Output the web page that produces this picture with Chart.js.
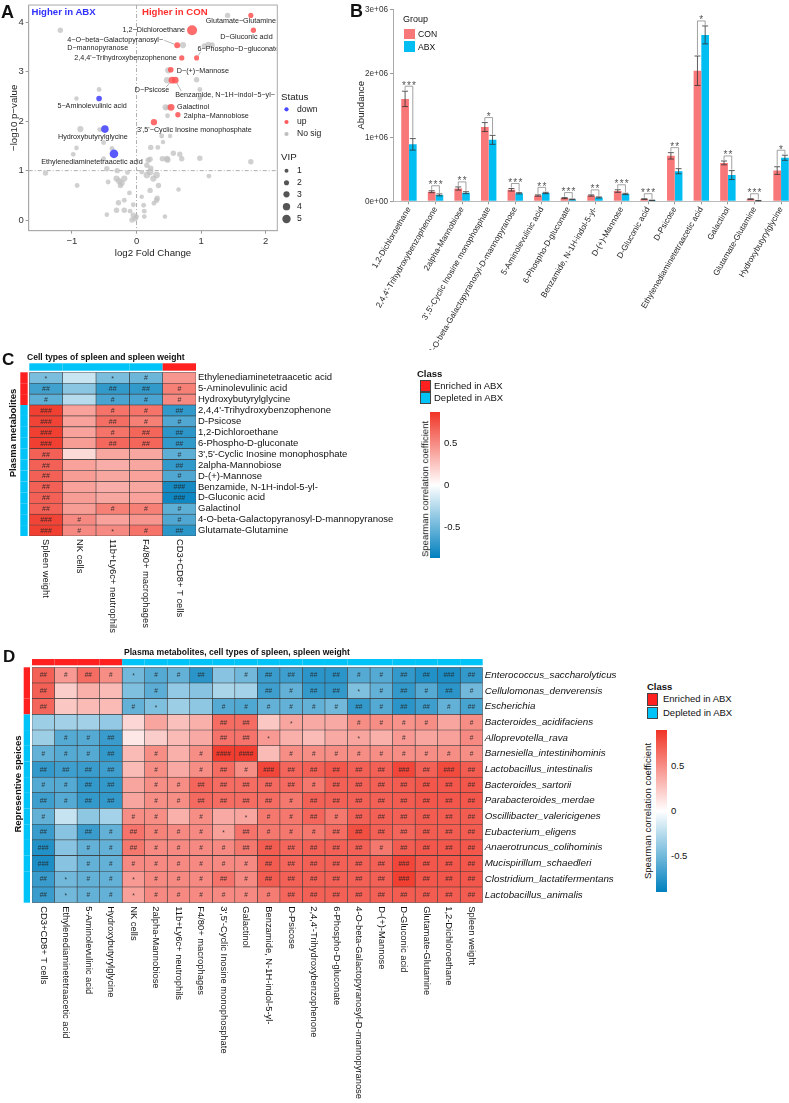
<!DOCTYPE html>
<html>
<head>
<meta charset="utf-8">
<script src="https://cdn.jsdelivr.net/npm/chart.js@4.4.1/dist/chart.umd.min.js"></script>
<style>
html, body { margin: 0; padding: 0; background: #fff; overflow: hidden; }
body { position: relative; width: 789px; height: 1103px; font-family: "Liberation Sans", Arial, sans-serif; color: #111; }
canvas { position: absolute; }
.t { position: absolute; white-space: nowrap; line-height: 1; }
.l { transform: translate(0, -50%); }
.rot { transform: translate(-50%, -50%) rotate(-90deg); }
.letter { font-weight: bold; font-size: 18px; color: #111; }
.box { position: absolute; box-sizing: border-box; border: 0.8px solid #444; }
.bar { position: absolute; }
</style>
</head>
<body>

<canvas id="volcano" width="340" height="262" style="left:0;top:0"></canvas>
<canvas id="bars" width="450" height="350" style="left:350px;top:0"></canvas>
<canvas id="heatC" width="420" height="295" style="left:0;top:345px"></canvas>
<canvas id="heatD" width="640" height="458" style="left:0;top:645px"></canvas>

<!-- panel A text -->
<div class="t l letter" style="left:1px;top:11.7px">A</div>
<div class="t l" style="left:31.5px;top:11.7px;font-weight:bold;font-size:9.6px;color:#3030ff">Higher in ABX</div>
<div class="t l" style="left:142px;top:11.7px;font-weight:bold;font-size:9.6px;color:#ff3030">Higher in CON</div>

<!-- panel B text -->
<div class="t l letter" style="left:350px;top:10.7px">B</div>
<div class="t l" style="left:403px;top:19px;font-size:9px">Group</div>
<div class="bar" style="left:404px;top:29.3px;width:11px;height:10px;background:#F8787A"></div>
<div class="t l" style="left:418px;top:34.3px;font-size:8.6px">CON</div>
<div class="bar" style="left:404px;top:41.3px;width:11px;height:10.4px;background:#00BDF2"></div>
<div class="t l" style="left:418px;top:46.5px;font-size:8.6px">ABX</div>

<!-- panel C text -->
<div class="t l letter" style="left:2px;top:359px;font-size:17px">C</div>
<div class="t l" style="left:27px;top:356.7px;font-weight:bold;font-size:8.6px">Cell types of spleen and spleen weight</div>
<div class="t rot" style="left:13.3px;top:432.5px;font-weight:bold;font-size:9.5px">Plasma metabolites</div>
<div class="t l" style="left:417px;top:374px;font-weight:bold;font-size:9.5px">Class</div>
<div class="box" style="left:420px;top:379.5px;width:10.5px;height:12.3px;background:#FF2020"></div>
<div class="t l" style="left:434px;top:385.5px;font-size:9.5px">Enriched in ABX</div>
<div class="box" style="left:420px;top:391.8px;width:10.5px;height:12.3px;background:#00C3F7"></div>
<div class="t l" style="left:434px;top:398px;font-size:9.5px">Depleted in ABX</div>
<div id="barC" class="bar" style="left:430px;top:412px;width:10px;height:146px"></div>
<div class="t l" style="left:444px;top:443px;font-size:9.5px">0.5</div>
<div class="t l" style="left:444px;top:485px;font-size:9.5px">0</div>
<div class="t l" style="left:444px;top:527px;font-size:9.5px">-0.5</div>
<div class="t rot" style="left:424.5px;top:489px;font-size:9.5px">Spearman correlation coefficient</div>

<!-- panel D text -->
<div class="t l letter" style="left:3px;top:656px;font-size:17px">D</div>
<div class="t l" style="left:124px;top:651.7px;font-weight:bold;font-size:8.6px">Plasma metabolites, cell types of spleen, spleen weight</div>
<div class="t rot" style="left:18px;top:784px;font-weight:bold;font-size:9.5px">Representive speices</div>
<div class="t l" style="left:647px;top:687px;font-weight:bold;font-size:9.5px">Class</div>
<div class="box" style="left:647px;top:693px;width:11px;height:12.5px;background:#FF2020"></div>
<div class="t l" style="left:663px;top:699px;font-size:9.5px">Enriched in ABX</div>
<div class="box" style="left:647px;top:706.5px;width:11px;height:12.5px;background:#00C3F7"></div>
<div class="t l" style="left:663px;top:713px;font-size:9.5px">Depleted in ABX</div>
<div id="barD" class="bar" style="left:656px;top:730px;width:11px;height:162px"></div>
<div class="t l" style="left:671px;top:766px;font-size:9.5px">0.5</div>
<div class="t l" style="left:671px;top:811px;font-size:9.5px">0</div>
<div class="t l" style="left:671px;top:856px;font-size:9.5px">-0.5</div>
<div class="t rot" style="left:648px;top:811px;font-size:9.5px">Spearman correlation coefficient</div>

<script>
// ---------- A: volcano data ----------
const upNames = ['Glutamate-Glutamine', '1,2-Dichloroethane', 'D-Gluconic acid',
  '4-O-beta-Galactopyranosyl-D-mannopyranose', '6-Phospho-D-gluconate',
  "2,4,4'-Trihydroxybenzophenone", 'D-(+)-Mannose', 'D-Psicose',
  'Benzamide, N-1H-indol-5-yl-', 'Galactinol', '2alpha-Mannobiose',
  "3',5'-Cyclic Inosine monophosphate"];
const upFC = [1.77, 0.86, 1.81, 0.63, 0.93, 0.70, 0.53, 0.55, 0.60, 0.535, 0.64, 0.27];
const upLogP = [4.14, 3.84, 3.84, 3.535, 3.28, 3.28, 3.04, 2.83, 2.83, 2.28, 2.13, 1.98];
const upVIP = [2, 6.5, 2.2, 2.8, 2, 2.2, 2.5, 3.6, 3.4, 3.6, 2.2, 3.1];

const downNames = ['5-Aminolevulinic acid', 'Hydroxybutyrylglycine', 'Ethylenediaminetetraacetic acid'];
const downFC = [-0.58, -0.49, -0.35];
const downLogP = [2.46, 1.84, 1.34];
const downVIP = [2.5, 4.3, 5.2];

const nsFC = [1.41, -1.18, 0.72, 1.05, 1.11, 1.17, 0.49, 0.47, 0.93, 0.98, 0.98, -0.58, -0.93, 0.45, 0.49,
  0.48, -0.87, -0.57, 0.39, 0.52, -0.93, -0.51, -0.38, -0.98, -0.51, 0.22, 0.33, 0.41, 0.57, 0.67,
  0.70, 0.40, 0.47, 0.98, 1.77, 0.21, -1.41, -0.92, -0.46, -0.44, -0.31, -0.27, -0.23, -0.19, -0.25,
  -0.46, -0.11, -0.28, -0.19, -0.31, -0.19, -0.10, -0.05, -0.02, -0.07, 0.00, 0.12, 0.12, 0.08, 0.16,
  0.21, 0.31, 0.26, 0.34, 0.16, 0.18, 0.21, 0.32, 0.31, 0.27, 0.11, 0.44, 0.65, 1.12, 0.48,
  0.08, 0.22, -0.14, -0.30, -0.05];
const nsLogP = [4.14, 3.84, 3.54, 3.52, 3.55, 3.54, 3.03, 2.83, 2.84, 2.64, 2.47, 2.64, 2.46, 2.28, 2.28,
  2.11, 1.84, 1.83, 1.70, 1.70, 1.46, 1.57, 1.45, 1.33, 1.24, 1.47, 1.47, 1.58, 1.35, 1.33,
  1.24, 1.24, 1.24, 1.25, 1.18, 1.23, 0.95, 0.70, 0.11, 0.77, 0.84, 0.79, 0.75, 0.84, 0.70,
  1.04, 0.55, 0.35, 0.40, 0.20, 0.20, 0.18, 0.10, 0.03, 0.00, 0.07, 0.07, 0.18, 0.47, 0.91,
  0.97, 0.91, 0.84, 0.70, 1.11, 1.21, 0.60, 0.44, 0.40, 0.34, 0.30, 0.07, 0.62, 0.89, 1.22,
  0.97, 1.05, 0.96, 1.00, 0.31];
const nsVIP = [2.3, 2.3, 3, 2.3, 2.3, 2.3, 3, 3, 2.3, 1.8, 1.8, 1.8, 1.5, 3, 2.3,
  1.8, 3, 1.8, 1.8, 1.5, 1.5, 1.8, 1.8, 1.8, 1.8, 2.3, 1.8, 1.5, 2.3, 2.3,
  2.3, 2.3, 3, 2.3, 2.3, 2.3, 2.3, 1.8, 1.5, 1.8, 3, 3, 3, 3, 2.3,
  2.3, 1.8, 2.3, 1.8, 2.3, 2.3, 1.8, 2.3, 2.3, 2.3, 1.8, 1.8, 1.8, 1.5, 3.4,
  3.4, 3.4, 3, 2.3, 2.3, 2.3, 2.3, 2.3, 2.3, 1.8, 1.8, 1.5, 1.5, 1.8, 3,
  1.8, 2.3, 1.8, 2.3, 1.8];

// ---------- B: abundance data ----------
const metabolites = ['1,2-Dichloroethane', "2,4,4'-Trihydroxybenzophenone", '2alpha-Mannobiose',
  "3',5'-Cyclic Inosine monophosphate", '4-O-beta-Galactopyranosyl-D-mannopyranose',
  '5-Aminolevulinic acid', '6-Phospho-D-gluconate', 'Benzamide, N-1H-indol-5-yl-', 'D-(+)-Mannose',
  'D-Gluconic acid', 'D-Psicose', 'Ethylenediaminetetraacetic acid', 'Galactinol',
  'Glutamate-Glutamine', 'Hydroxybutyrylglycine'];
const conMean = [1.60e6, 0.15e6, 0.20e6, 1.16e6, 0.18e6, 0.09e6, 0.05e6, 0.09e6, 0.16e6, 0.035e6, 0.71e6, 2.04e6, 0.60e6, 0.035e6, 0.48e6];
const conErr = [0.12e6, 0.015e6, 0.025e6, 0.07e6, 0.02e6, 0.01e6, 0.008e6, 0.01e6, 0.02e6, 0.005e6, 0.05e6, 0.23e6, 0.03e6, 0.005e6, 0.06e6];
const abxMean = [0.89e6, 0.10e6, 0.135e6, 0.96e6, 0.125e6, 0.13e6, 0.03e6, 0.06e6, 0.115e6, 0.015e6, 0.47e6, 2.60e6, 0.41e6, 0.01e6, 0.68e6];
const abxErr = [0.09e6, 0.015e6, 0.015e6, 0.07e6, 0.01e6, 0.01e6, 0.005e6, 0.008e6, 0.01e6, 0.003e6, 0.04e6, 0.14e6, 0.07e6, 0.003e6, 0.04e6];
const signif = ['***', '***', '**', '*', '***', '**', '***', '**', '***', '***', '**', '*', '**', '***', '*'];
const abundanceTicks = [0, 1e6, 2e6, 3e6];

// ---------- C: metabolites x spleen cells ----------
const cRows = ['Ethylenediaminetetraacetic acid', '5-Aminolevulinic acid', 'Hydroxybutyrylglycine',
  "2,4,4'-Trihydroxybenzophenone", 'D-Psicose', '1,2-Dichloroethane', '6-Phospho-D-gluconate',
  "3',5'-Cyclic Inosine monophosphate", '2alpha-Mannobiose', 'D-(+)-Mannose',
  'Benzamide, N-1H-indol-5-yl-', 'D-Gluconic acid', 'Galactinol',
  '4-O-beta-Galactopyranosyl-D-mannopyranose', 'Glutamate-Glutamine'];
const cCols = ['Spleen weight', 'NK cells', '11b+Ly6c+ neutrophils', 'F4/80+ macrophages', 'CD3+CD8+ T cells'];
const cRowClass = ['E', 'E', 'E', 'D', 'D', 'D', 'D', 'D', 'D', 'D', 'D', 'D', 'D', 'D', 'D'];
const cColClass = ['D', 'D', 'D', 'D', 'E'];
const cRho = [
  [-0.45, -0.18, -0.45, -0.50, 0.45],
  [-0.65, -0.40, -0.70, -0.70, 0.55],
  [-0.55, -0.25, -0.62, -0.62, 0.50],
  [0.82, 0.40, 0.60, 0.60, -0.70],
  [0.80, 0.40, 0.62, 0.55, -0.60],
  [0.82, 0.40, 0.60, 0.66, -0.72],
  [0.82, 0.42, 0.65, 0.66, -0.70],
  [0.68, 0.16, 0.38, 0.38, -0.55],
  [0.68, 0.40, 0.35, 0.38, -0.70],
  [0.68, 0.42, 0.38, 0.40, -0.60],
  [0.68, 0.40, 0.35, 0.38, -0.80],
  [0.68, 0.42, 0.38, 0.40, -0.82],
  [0.68, 0.42, 0.55, 0.55, -0.55],
  [0.80, 0.50, 0.40, 0.45, -0.60],
  [0.82, 0.50, 0.50, 0.60, -0.72]
];
const cMarks = [
  ['*', '', '*', '#', ''],
  ['##', '', '##', '##', '#'],
  ['#', '', '#', '#', '#'],
  ['###', '', '#', '#', '##'],
  ['###', '', '##', '#', '#'],
  ['###', '', '#', '##', '##'],
  ['###', '', '##', '##', '##'],
  ['##', '', '', '', '#'],
  ['##', '', '', '', '##'],
  ['##', '', '', '', '#'],
  ['##', '', '', '', '###'],
  ['##', '', '', '', '###'],
  ['##', '', '#', '#', '#'],
  ['###', '#', '', '', '#'],
  ['###', '#', '*', '#', '##']
];

// ---------- D: species x metabolites/cells ----------
const dRows = ['Enterococcus_saccharolyticus', 'Cellulomonas_denverensis', 'Escherichia',
  'Bacteroides_acidifaciens', 'Alloprevotella_rava', 'Barnesiella_intestinihominis',
  'Lactobacillus_intestinalis', 'Bacteroides_sartorii', 'Parabacteroides_merdae',
  'Oscillibacter_valericigenes', 'Eubacterium_eligens', 'Anaerotruncus_colihominis',
  'Mucispirillum_schaedleri', 'Clostridium_lactatifermentans', 'Lactobacillus_animalis'];
const dCols = ['CD3+CD8+ T cells', 'Ethylenediaminetetraacetic acid', '5-Aminolevulinic acid',
  'Hydroxybutyrylglycine', 'NK cells', '2alpha-Mannobiose', '11b+Ly6c+ neutrophils',
  'F4/80+ macrophages', "3',5'-Cyclic Inosine monophosphate", 'Galactinol',
  'Benzamide, N-1H-indol-5-yl-', 'D-Psicose', "2,4,4'-Trihydroxybenzophenone",
  '6-Phospho-D-gluconate', '4-O-beta-Galactopyranosyl-D-mannopyranose', 'D-(+)-Mannose',
  'D-Gluconic acid', 'Glutamate-Glutamine', '1,2-Dichloroethane', 'Spleen weight'];
const dRowClass = ['E', 'E', 'E', 'D', 'D', 'D', 'D', 'D', 'D', 'D', 'D', 'D', 'D', 'D', 'D'];
const dColClass = ['E', 'E', 'E', 'E', 'D', 'D', 'D', 'D', 'D', 'D', 'D', 'D', 'D', 'D', 'D', 'D', 'D', 'D', 'D', 'D'];
const dRho = [
  [0.70, 0.45, 0.65, 0.50, -0.50, -0.60, -0.55, -0.75, -0.42, -0.50, -0.70, -0.68, -0.75, -0.75, -0.60, -0.60, -0.72, -0.78, -0.80, -0.72],
  [0.70, 0.22, 0.35, 0.30, -0.45, -0.58, -0.38, -0.42, -0.30, -0.32, -0.68, -0.55, -0.72, -0.72, -0.45, -0.55, -0.72, -0.60, -0.75, -0.50],
  [0.68, 0.25, 0.30, 0.30, -0.55, -0.45, -0.35, -0.40, -0.60, -0.62, -0.55, -0.55, -0.55, -0.50, -0.72, -0.60, -0.75, -0.68, -0.55, -0.65],
  [-0.35, -0.33, -0.33, -0.38, 0.18, 0.40, 0.28, 0.35, 0.65, 0.65, 0.25, 0.40, 0.38, 0.38, 0.50, 0.50, 0.48, 0.50, 0.40, 0.50],
  [-0.35, -0.60, -0.60, -0.70, 0.10, 0.22, 0.30, 0.38, 0.62, 0.62, 0.45, 0.35, 0.30, 0.38, 0.40, 0.35, 0.45, 0.40, 0.42, 0.52],
  [-0.55, -0.60, -0.60, -0.72, 0.30, 0.50, 0.35, 0.50, 0.86, 0.86, 0.30, 0.50, 0.50, 0.50, 0.50, 0.50, 0.50, 0.50, 0.50, 0.50],
  [-0.72, -0.68, -0.70, -0.68, 0.30, 0.50, 0.38, 0.50, 0.65, 0.50, 0.82, 0.68, 0.70, 0.75, 0.70, 0.70, 0.82, 0.70, 0.80, 0.72],
  [-0.60, -0.60, -0.72, -0.72, 0.40, 0.50, 0.50, 0.68, 0.65, 0.65, 0.66, 0.66, 0.60, 0.70, 0.70, 0.70, 0.72, 0.75, 0.75, 0.75],
  [-0.68, -0.60, -0.72, -0.72, 0.40, 0.50, 0.50, 0.66, 0.65, 0.65, 0.65, 0.60, 0.70, 0.70, 0.70, 0.70, 0.72, 0.75, 0.75, 0.75],
  [-0.55, -0.20, -0.40, -0.32, 0.50, 0.50, 0.35, 0.50, 0.38, 0.40, 0.60, 0.60, 0.68, 0.60, 0.70, 0.70, 0.70, 0.72, 0.72, 0.72],
  [-0.70, -0.42, -0.70, -0.55, 0.62, 0.55, 0.52, 0.52, 0.42, 0.62, 0.60, 0.60, 0.60, 0.65, 0.78, 0.70, 0.68, 0.72, 0.72, 0.72],
  [-0.78, -0.42, -0.55, -0.55, 0.60, 0.52, 0.52, 0.52, 0.52, 0.60, 0.72, 0.68, 0.70, 0.70, 0.70, 0.60, 0.72, 0.75, 0.75, 0.75],
  [-0.80, -0.42, -0.55, -0.55, 0.52, 0.52, 0.52, 0.52, 0.52, 0.52, 0.72, 0.68, 0.70, 0.70, 0.70, 0.70, 0.82, 0.75, 0.75, 0.75],
  [-0.70, -0.50, -0.55, -0.55, 0.45, 0.52, 0.52, 0.52, 0.62, 0.52, 0.72, 0.70, 0.70, 0.70, 0.70, 0.70, 0.85, 0.75, 0.75, 0.75],
  [-0.70, -0.50, -0.55, -0.55, 0.42, 0.52, 0.52, 0.52, 0.52, 0.52, 0.58, 0.68, 0.70, 0.70, 0.70, 0.70, 0.72, 0.72, 0.72, 0.72]
];
const dMarks = [
  ['##', '#', '##', '#', '*', '#', '#', '##', '', '#', '##', '##', '##', '##', '#', '#', '##', '##', '###', '##'],
  ['##', '', '', '', '', '#', '', '', '', '', '##', '#', '##', '##', '*', '#', '##', '#', '##', '#'],
  ['##', '', '', '', '#', '*', '', '', '#', '#', '#', '#', '#', '#', '##', '#', '##', '##', '#', '##'],
  ['', '', '', '', '', '', '', '', '##', '##', '', '*', '', '', '#', '#', '#', '#', '', '#'],
  ['', '#', '#', '##', '', '', '', '', '##', '##', '*', '', '', '', '*', '', '#', '', '', '#'],
  ['#', '#', '#', '##', '', '#', '', '#', '####', '####', '', '#', '#', '#', '#', '#', '#', '#', '#', '#'],
  ['##', '##', '##', '##', '', '#', '', '#', '##', '#', '###', '##', '##', '##', '##', '##', '###', '##', '###', '##'],
  ['#', '#', '##', '##', '', '#', '#', '##', '##', '##', '##', '##', '#', '##', '##', '##', '##', '##', '##', '##'],
  ['##', '#', '##', '##', '', '#', '#', '##', '##', '##', '##', '#', '##', '##', '##', '##', '##', '##', '##', '##'],
  ['#', '', '', '', '#', '#', '', '#', '', '*', '#', '#', '##', '#', '##', '##', '##', '##', '##', '##'],
  ['##', '', '##', '#', '##', '#', '#', '#', '*', '##', '#', '#', '#', '##', '##', '##', '##', '##', '##', '##'],
  ['###', '', '#', '#', '##', '#', '#', '#', '#', '##', '##', '##', '##', '##', '##', '#', '##', '##', '##', '##'],
  ['###', '', '#', '#', '#', '#', '#', '#', '#', '#', '##', '##', '##', '##', '##', '##', '###', '##', '##', '##'],
  ['##', '*', '#', '#', '*', '#', '#', '#', '##', '#', '##', '##', '##', '##', '##', '##', '###', '##', '##', '##'],
  ['##', '*', '#', '#', '*', '#', '#', '#', '#', '#', '#', '##', '##', '##', '##', '##', '##', '##', '##', '##']
];

// ---------- styles ----------
Chart.defaults.font.family = '"Liberation Sans", Arial, sans-serif';
Chart.defaults.color = '#222';
const FONT = '"Liberation Sans", Arial, sans-serif';
const classColor = { E: '#FF2020', D: '#00C3F7' };
const vipRadius = v => 1.45 + 0.55 * v;
const minus = s => String(s).replace(/-/g, '\u2212');

function heatColor(v, lim) {
  const t = Math.min(Math.abs(v) / lim, 1);
  const end = v >= 0 ? [240, 52, 38] : [0, 128, 190];
  return 'rgb(' + end.map(e => Math.round(255 + (e - 255) * t)).join(',') + ')';
}
function paintColorbar(id, lim) {
  const stops = [];
  for (let i = 0; i <= 20; i++) stops.push(heatColor(lim - i * lim / 10, lim) + ' ' + (i * 5) + '%');
  document.getElementById(id).style.background = 'linear-gradient(to bottom,' + stops.join(',') + ')';
}

// label placement for volcano (pixel offsets from the point)
const volcanoLabels = {
  'Glutamate-Glutamine': { dx: -10, dy: 6, align: 'center' },
  '1,2-Dichloroethane': { dx: -7, dy: 0, align: 'right' },
  'D-Gluconic acid': { dx: -7, dy: 7, align: 'center' },
  '4-O-beta-Galactopyranosyl-D-mannopyranose': { dx: -110, dy: -5, align: 'left',
    lines: ['4-O-beta-Galactopyranosyl-', 'D-mannopyranose'], lead: [-13, -5] },
  '6-Phospho-D-gluconate': { dx: 1, dy: -9, align: 'left', lead: [4, -6] },
  "2,4,4'-Trihydroxybenzophenone": { dx: -5, dy: 0, align: 'right' },
  'D-(+)-Mannose': { dx: 6, dy: 1, align: 'left' },
  'D-Psicose': { dx: -20, dy: 10, align: 'center', lead: [-6, 7] },
  'Benzamide, N-1H-indol-5-yl-': { dx: 0, dy: 15, align: 'left', lead: [6, 11] },
  'Galactinol': { dx: 6, dy: 0, align: 'left' },
  '2alpha-Mannobiose': { dx: 6, dy: 1, align: 'left' },
  "3',5'-Cyclic Inosine monophosphate": { dx: -17, dy: 8, align: 'left' },
  '5-Aminolevulinic acid': { dx: -7, dy: 8, align: 'center' },
  'Hydroxybutyrylglycine': { dx: -12, dy: 8, align: 'center' },
  'Ethylenediaminetetraacetic acid': { dx: -22, dy: 8, align: 'center' }
};

// ---------- A: volcano ----------
const volcanoDecor = {
  id: 'volcanoDecor',
  beforeDatasetsDraw(chart) {
    const { ctx, chartArea: a, scales: { x, y } } = chart;
    ctx.save();
    ctx.strokeStyle = '#999';
    ctx.lineWidth = 0.8;
    ctx.setLineDash([4, 2, 1, 2]);
    ctx.beginPath();
    ctx.moveTo(x.getPixelForValue(0), a.top);
    ctx.lineTo(x.getPixelForValue(0), a.bottom);
    ctx.moveTo(a.left, y.getPixelForValue(1));
    ctx.lineTo(a.right, y.getPixelForValue(1));
    ctx.stroke();
    ctx.restore();
  },
  afterDatasetsDraw(chart) {
    const { ctx, chartArea: a, scales: { x, y } } = chart;
    ctx.save();
    ctx.strokeStyle = '#aaa';
    ctx.lineWidth = 1;
    ctx.strokeRect(a.left, a.top, a.right - a.left, a.bottom - a.top);

    // point labels, clipped to the panel like ggplot does
    ctx.save();
    ctx.beginPath();
    ctx.rect(a.left, a.top, a.right - a.left - 1, a.bottom - a.top);
    ctx.clip();
    ctx.font = '7.2px ' + FONT;
    ctx.fillStyle = '#222';
    ctx.textBaseline = 'middle';
    [0, 1].forEach(d => {
      chart.data.datasets[d].data.forEach(p => {
        const st = volcanoLabels[p.name];
        if (!st) return;
        const px = x.getPixelForValue(p.x), py = y.getPixelForValue(p.y);
        if (st.lead) {
          const r = vipRadius(p.vip);
          const lx = px + st.lead[0], ly = py + st.lead[1];
          const len = Math.hypot(st.lead[0], st.lead[1]);
          ctx.strokeStyle = '#888';
          ctx.lineWidth = 0.6;
          ctx.beginPath();
          ctx.moveTo(lx, ly);
          ctx.lineTo(px + st.lead[0] * r / len, py + st.lead[1] * r / len);
          ctx.stroke();
        }
        ctx.textAlign = st.align;
        const lines = st.lines || [p.name];
        lines.forEach((t, k) => ctx.fillText(minus(t), px + st.dx, py + st.dy + k * 8));
      });
    });
    ctx.restore();

    // legends
    ctx.textAlign = 'left';
    ctx.textBaseline = 'middle';
    ctx.font = '9.7px ' + FONT;
    ctx.fillStyle = '#222';
    ctx.fillText('Status', 281, 97);
    ctx.fillText('VIP', 281, 157);
    const status = [['down', 'rgb(72,72,255)', 109.3], ['up', 'rgb(255,90,90)', 122], ['No sig', 'rgb(190,190,190)', 134]];
    ctx.font = '8.6px ' + FONT;
    status.forEach(([lab, col, yy]) => {
      ctx.fillStyle = col;
      ctx.beginPath(); ctx.arc(286.5, yy, 2.1, 0, Math.PI * 2); ctx.fill();
      ctx.fillStyle = '#222';
      ctx.fillText(lab, 297, yy);
    });
    [170.7, 182.7, 194.3, 206.7, 219].forEach((yy, k) => {
      ctx.fillStyle = '#555';
      ctx.beginPath(); ctx.arc(286.5, yy, vipRadius(k + 1), 0, Math.PI * 2); ctx.fill();
      ctx.fillStyle = '#222';
      ctx.fillText(String(k + 1), 297, yy);
    });
    ctx.restore();
  }
};

const toPoints = (fc, lp, vip, names) => fc.map((v, i) => ({ x: v, y: lp[i], vip: vip[i], name: names ? names[i] : '' }));

new Chart(document.getElementById('volcano'), {
  type: 'scatter',
  data: {
    datasets: [
      { label: 'down', data: toPoints(downFC, downLogP, downVIP, downNames), backgroundColor: 'rgba(72,72,255,0.9)' },
      { label: 'up', data: toPoints(upFC, upLogP, upVIP, upNames), backgroundColor: 'rgba(255,82,82,0.85)' },
      { label: 'No sig', data: toPoints(nsFC, nsLogP, nsVIP), backgroundColor: 'rgba(192,192,192,0.75)' }
    ]
  },
  options: {
    responsive: false, animation: false, devicePixelRatio: 1,
    layout: { padding: { left: 0, top: 4, right: 62.7, bottom: 0 } },
    plugins: { legend: { display: false }, tooltip: { enabled: false } },
    datasets: { scatter: { pointRadius: ctx => ctx.raw ? vipRadius(ctx.raw.vip) : 3, pointBorderWidth: 0 } },
    scales: {
      x: {
        type: 'linear', min: -1.67, max: 2.18,
        afterBuildTicks: s => { s.ticks = [-1, 0, 1, 2].map(v => ({ value: v })); },
        ticks: { callback: v => minus(v), font: { size: 9.5 }, color: '#333', padding: 2 },
        grid: { drawOnChartArea: false, tickLength: 3, color: '#999' },
        border: { color: '#aaa' },
        title: { display: true, text: 'log2 Fold Change', font: { size: 9.7 }, color: '#222', padding: { top: 0, bottom: 3 } },
        afterFit: s => { s.height = 31.3; s.paddingLeft = 0; s.paddingRight = 0; }
      },
      y: {
        type: 'linear', min: -0.215, max: 4.35,
        afterBuildTicks: s => { s.ticks = [0, 1, 2, 3, 4].map(v => ({ value: v })); },
        ticks: { font: { size: 9.5 }, color: '#333', padding: 2 },
        grid: { drawOnChartArea: false, tickLength: 3, color: '#999' },
        border: { color: '#aaa' },
        title: { display: true, text: minus('-log10 p-value'), font: { size: 9.7 }, color: '#222', padding: { top: 8.2, bottom: 0 } },
        afterFit: s => { s.width = 28.7; s.paddingTop = 0; s.paddingBottom = 0; }
      }
    }
  },
  plugins: [volcanoDecor]
});

// ---------- B: bars ----------
const sci = v => v === 0 ? '0e+00' : v.toExponential(0).replace(/e\+(\d)$/, 'e+0$1');
const errorBars = {
  id: 'errorBars',
  afterDatasetsDraw(chart) {
    const { ctx, scales: { y } } = chart;
    const means = [conMean, abxMean], errs = [conErr, abxErr];
    const metas = [chart.getDatasetMeta(0), chart.getDatasetMeta(1)];
    ctx.save();
    ctx.strokeStyle = '#333';
    ctx.lineWidth = 0.8;
    metas.forEach((meta, d) => meta.data.forEach((bar, i) => {
      const top = y.getPixelForValue(means[d][i] + errs[d][i]);
      const bot = y.getPixelForValue(Math.max(means[d][i] - errs[d][i], 0));
      ctx.beginPath();
      ctx.moveTo(bar.x, top); ctx.lineTo(bar.x, bot);
      ctx.moveTo(bar.x - 3, top); ctx.lineTo(bar.x + 3, top);
      ctx.moveTo(bar.x - 3, bot); ctx.lineTo(bar.x + 3, bot);
      ctx.stroke();
    }));
    // significance brackets
    ctx.font = '10px ' + FONT;
    ctx.textAlign = 'center';
    ctx.textBaseline = 'alphabetic';
    ctx.letterSpacing = '1.2px';
    signif.forEach((s, i) => {
      const xa = metas[0].data[i].x, xb = metas[1].data[i].x;
      const ya = y.getPixelForValue(conMean[i] + conErr[i]);
      const yb = y.getPixelForValue(abxMean[i] + abxErr[i]);
      const top = Math.min(ya, yb) - 5;
      ctx.strokeStyle = '#8a8a8a';
      ctx.beginPath();
      ctx.moveTo(xa, ya - 1); ctx.lineTo(xa, top); ctx.lineTo(xb, top); ctx.lineTo(xb, yb - 1);
      ctx.stroke();
      ctx.fillStyle = '#555';
      ctx.fillText(s, (xa + xb) / 2 + 0.6, top + 2.5);
    });
    ctx.restore();
  }
};

new Chart(document.getElementById('bars'), {
  type: 'bar',
  data: {
    datasets: [
      { label: 'CON', data: conMean.map((v, i) => ({ x: i + 1, y: v })), backgroundColor: '#F8787A' },
      { label: 'ABX', data: abxMean.map((v, i) => ({ x: i + 1, y: v })), backgroundColor: '#00BDF2' }
    ]
  },
  options: {
    responsive: false, animation: false, devicePixelRatio: 1,
    layout: { padding: { left: 0, top: 9.3, right: 3, bottom: 0 } },
    datasets: { bar: { categoryPercentage: 0.58, barPercentage: 1 } },
    plugins: { legend: { display: false }, tooltip: { enabled: false } },
    scales: {
      x: {
        type: 'linear', min: 0.4, max: 15.6, offset: false,
        afterBuildTicks: s => { s.ticks = metabolites.map((_, i) => ({ value: i + 1 })); },
        ticks: { callback: v => metabolites[v - 1], autoSkip: false, minRotation: 60, maxRotation: 60, font: { size: 8.2 }, color: '#222', padding: 1 },
        grid: { drawOnChartArea: false, offset: false, tickLength: 3, color: '#999' },
        border: { color: '#bbb' },
        afterFit: s => { s.height = 148.7; s.paddingLeft = 0; s.paddingRight = 0; }
      },
      y: {
        min: 0, max: 3e6,
        afterBuildTicks: s => { s.ticks = abundanceTicks.map(v => ({ value: v })); },
        ticks: { callback: sci, font: { size: 8.2 }, color: '#333', padding: 2 },
        grid: { drawOnChartArea: false, tickLength: 3, color: '#999' },
        border: { color: '#aaa' },
        title: { display: true, text: 'Abundance', font: { size: 9.6 }, color: '#222', padding: { top: 6, bottom: 0 } },
        afterFit: s => { s.width = 43; s.paddingTop = 0; s.paddingBottom = 0; }
      }
    }
  },
  plugins: [errorBars]
});

// ---------- C & D: heatmaps ----------
function heatmap(id, rows, cols, rho, marks, rowClass, colClass, lim, look) {
  const decor = {
    id: 'decor',
    afterDatasetsDraw(chart) {
      const { ctx, chartArea: a, scales: { x, y } } = chart;
      const band = Math.abs(y.getPixelForValue(1) - y.getPixelForValue(0));
      ctx.save();
      ctx.font = look.markSize + 'px ' + FONT;
      ctx.fillStyle = 'rgba(35,35,35,0.85)';
      ctx.textAlign = 'center';
      ctx.textBaseline = 'middle';
      marks.forEach((row, r) => row.forEach((m, c) => {
        if (m) ctx.fillText(m, x.getPixelForValue(c + 0.5), y.getPixelForValue(r) + (m === '*' ? 1.5 : 0.5));
      }));
      colClass.forEach((k, c) => {
        const x0 = x.getPixelForValue(c), x1 = x.getPixelForValue(c + 1);
        ctx.fillStyle = classColor[k];
        ctx.fillRect(x0, a.top - look.gap - look.bar, x1 - x0, look.bar);
      });
      rowClass.forEach((k, r) => {
        const yc = y.getPixelForValue(r);
        ctx.fillStyle = classColor[k];
        ctx.fillRect(a.left - look.gap - look.bar, yc - band / 2, look.bar, band);
      });
      ctx.font = look.colSize + 'px ' + FONT;
      ctx.fillStyle = '#111';
      ctx.textAlign = 'left';
      cols.forEach((name, c) => {
        ctx.save();
        ctx.translate(x.getPixelForValue(c + 0.5), a.bottom + look.colPad);
        ctx.rotate(Math.PI / 2);
        ctx.fillText(name, 0, 0);
        ctx.restore();
      });
      ctx.restore();
    }
  };
  return new Chart(document.getElementById(id), {
    type: 'bar',
    data: {
      labels: rows,
      datasets: cols.map((name, c) => ({
        label: name,
        data: rows.map(() => [c, c + 1]),
        backgroundColor: rows.map((_, r) => heatColor(rho[r][c], lim)),
        borderColor: '#3a3a3a',
        borderWidth: look.border,
        borderSkipped: false,
        barPercentage: 1,
        categoryPercentage: 1,
        grouped: false
      }))
    },
    options: {
      indexAxis: 'y', responsive: false, animation: false, devicePixelRatio: 1,
      layout: { padding: look.pad },
      plugins: { legend: { display: false }, tooltip: { enabled: false } },
      scales: {
        x: { type: 'linear', min: 0, max: cols.length, display: false },
        y: {
          position: 'right',
          grid: { display: false, drawTicks: false },
          border: { display: false },
          ticks: { font: look.rowFont, color: '#111', padding: 2, autoSkip: false },
          afterFit: s => { s.width = look.labelW; }
        }
      }
    },
    plugins: [decor]
  });
}

heatmap('heatC', cRows, cCols, cRho, cMarks, cRowClass, cColClass, 0.87, {
  pad: { left: 29.3, top: 27.3, right: 0, bottom: 104 },
  labelW: 224, rowFont: { size: 9.5 }, colSize: 9.4, colPad: 3, markSize: 7,
  gap: 1.6, bar: 7.4, border: 0.6
});
heatmap('heatD', dRows, dCols, dRho, dMarks, dRowClass, dColClass, 0.9, {
  pad: { left: 32, top: 22.3, right: 0, bottom: 200.3 },
  labelW: 157.3, rowFont: { size: 9.8, style: 'italic' }, colSize: 9.4, colPad: 3.5, markSize: 6.5,
  gap: 2, bar: 6.3, border: 0.6
});
paintColorbar('barC', 0.87);
paintColorbar('barD', 0.9);
</script>
</body>
</html>
